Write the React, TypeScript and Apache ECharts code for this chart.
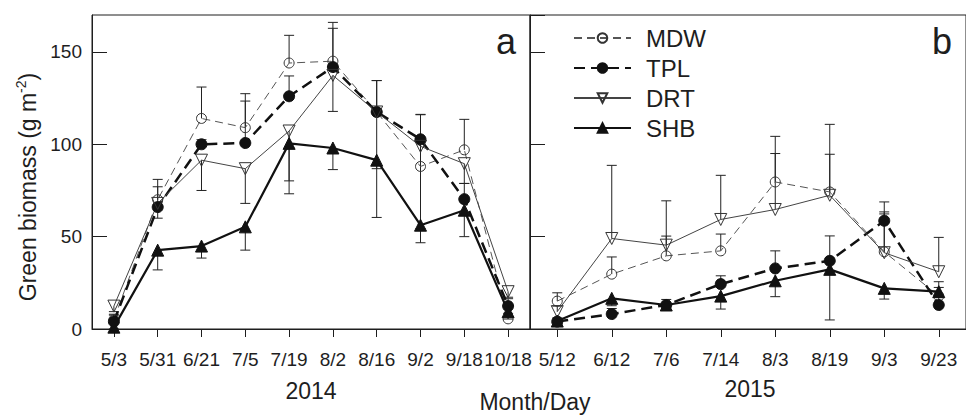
import React, { useEffect, useRef } from 'react';
import * as echarts from 'echarts';

const dates2014 = ['5/3', '5/31', '6/21', '7/5', '7/19', '8/2', '8/16', '9/2', '9/18', '10/18'];
const dates2015 = ['5/12', '6/12', '7/6', '7/14', '8/3', '8/19', '9/3', '9/23'];
const yTickValues = [0, 50, 100, 150];

const mdw2014 = [5, 70, 114, 109, 144, 145, 117.5, 88, 97, 5.5];
const tpl2014 = [4, 66, 100, 100.7, 126, 141.8, 117.5, 102.7, 70.3, 12.4];
const drt2014 = [12.4, 68, 91.4, 86.8, 107.2, 137.3, 117.5, 98.9, 89.5, 20.2];
const shb2014 = [1, 42.7, 44.9, 55.3, 100.5, 98, 91.4, 56.2, 64.3, 9.4];

const mdw2014Up = [3, 11, 17, 18.4, 15, 21, 17, 28, 16.5, 3];
const tpl2014Up = [3.5, 11, 2.5, 22.7, 11, 21, 17, 13.5, 8.5, 4];
const drt2014Down = [3, 8, 16.4, 18.8, 27, 19.5, 30.7, 44.5, 10.7, 3];
const shb2014Down = [1, 10.7, 6.5, 12.6, 27.3, 11.7, 31, 9.5, 14.3, 4];

const mdw2015 = [15.1, 29.7, 39.6, 42.3, 79.6, 74.2, 41.8, 17.8];
const tpl2015 = [4, 8.1, 13, 24.3, 32.8, 36.9, 58.6, 13];
const drt2015 = [9.4, 49, 45.4, 59.3, 64.7, 72.4, 41.3, 31];
const shb2015 = [4.3, 16.6, 13, 17.8, 26.1, 32.3, 22, 20.2];

const mdw2015Up = [4.5, 9.3, 10.7, 9.1, 24.7, 36.6, 21.6, 7.8];
const tpl2015Up = [2, 3, 3, 4.5, 9.5, 13.5, 10.2, 9.5];
const drt2015Up = [3, 39.6, 24, 23.9, 30.3, 22.2, 21, 18.6];
const shb2015Down = [2, 4, 3, 7, 8.6, 27.4, 5.8, 3];

const FONT = '"Liberation Sans", Arial, Helvetica, sans-serif';
const INK = '#1e1e1e';

function barRows(vals: number[], errs: number[], dir: number) {
  return vals.map((v, i) => [i, v, Math.max(0, v + dir * errs[i])]);
}

const seriesStyles: Record<string, any> = {
  MDW: {
    symbol: 'circle', symbolSize: 10, symbolRotate: 0,
    lineStyle: { color: '#555', width: 1, type: [8, 5] },
    itemStyle: { color: 'rgba(255,255,255,0)', borderColor: '#333', borderWidth: 1 },
  },
  TPL: {
    symbol: 'circle', symbolSize: 11, symbolRotate: 0,
    lineStyle: { color: '#111', width: 2.5, type: [11, 6] },
    itemStyle: { color: '#111', borderColor: '#111', borderWidth: 1 },
  },
  DRT: {
    symbol: 'triangle', symbolSize: 12, symbolRotate: 180,
    lineStyle: { color: '#444', width: 1, type: 'solid' },
    itemStyle: { color: 'rgba(255,255,255,0)', borderColor: '#333', borderWidth: 1 },
  },
  SHB: {
    symbol: 'triangle', symbolSize: 12, symbolRotate: 0,
    lineStyle: { color: '#111', width: 2.2, type: 'solid' },
    itemStyle: { color: '#111', borderColor: '#111', borderWidth: 1 },
  },
};

function lineSeries(name: string, data: number[], idx: number) {
  return {
    type: 'line',
    name,
    data,
    xAxisIndex: idx,
    yAxisIndex: idx,
    showSymbol: true,
    z: 3,
    ...seriesStyles[name],
  };
}

function errSeries(rows: number[][], idx: number) {
  return {
    type: 'custom',
    name: 'err' + idx,
    xAxisIndex: idx,
    yAxisIndex: idx,
    data: rows,
    z: 2,
    encode: { x: 0, y: [1, 2] },
    renderItem: (params: any, api: any) => {
      const x = api.value(0);
      const a = api.coord([x, api.value(1)]);
      const b = api.coord([x, api.value(2)]);
      const w = 5;
      const st = { stroke: '#222', lineWidth: 1 };
      return {
        type: 'group',
        children: [
          { type: 'line', shape: { x1: a[0], y1: a[1], x2: b[0], y2: b[1] }, style: st },
          { type: 'line', shape: { x1: b[0] - w, y1: b[1], x2: b[0] + w, y2: b[1] }, style: st },
        ],
      };
    },
  };
}

export default function App() {
  const ref = useRef<HTMLDivElement>(null);
  useEffect(() => {
    document.body.style.margin = '0';
    const chart = echarts.init(ref.current!, null, { renderer: 'svg' });
    const axisBase = {
      type: 'value',
      min: 0,
      max: 170,
      interval: 50,
      axisLine: { show: true, lineStyle: { color: INK, width: 1 } },
      axisTick: { show: true, inside: true, length: 15, lineStyle: { color: INK, width: 1 } },
      splitLine: { show: false },
    };
    const xBase = {
      type: 'category',
      boundaryGap: true,
      axisLine: { show: true, lineStyle: { color: INK, width: 1 } },
      axisTick: { show: true, alignWithLabel: true, inside: false, length: 8, lineStyle: { color: INK } },
      axisLabel: { color: INK, fontSize: 19, fontFamily: FONT, margin: 21, interval: 0 },
      splitLine: { show: false },
    };
    const errRows2014 = [
      ...barRows(mdw2014, mdw2014Up, 1),
      ...barRows(tpl2014, tpl2014Up, 1),
      ...barRows(drt2014, drt2014Down, -1),
      ...barRows(shb2014, shb2014Down, -1),
    ];
    const errRows2015 = [
      ...barRows(mdw2015, mdw2015Up, 1),
      ...barRows(tpl2015, tpl2015Up, 1),
      ...barRows(drt2015, drt2015Up, 1),
      ...barRows(shb2015, shb2015Down, -1),
    ];
    const option: any = {
      animation: false,
      backgroundColor: '#fff',
      textStyle: { fontFamily: FONT, color: INK },
      grid: [
        { left: 92, top: 15, width: 438, height: 314, show: true, borderColor: INK, borderWidth: 1 },
        { left: 530, top: 15, width: 438, height: 314, show: true, borderColor: INK, borderWidth: 1 },
      ],
      xAxis: [
        { ...xBase, gridIndex: 0, data: dates2014 },
        { ...xBase, gridIndex: 1, data: dates2015 },
      ],
      yAxis: [
        {
          ...axisBase,
          gridIndex: 0,
          axisLabel: {
            color: INK, fontSize: 19, fontFamily: FONT, margin: 10, showMaxLabel: false,
            formatter: (v: number) => (yTickValues.includes(v) ? String(v) : ''),
          },
          name: '{a|Green biomass (g m}{b|-2}{a|)}',
          nameLocation: 'middle',
          nameGap: 50,
          nameRotate: 90,
          nameTextStyle: {
            padding: [0, 30, 0, 0],
            rich: {
              a: { fontSize: 23, fontFamily: FONT, color: INK, lineHeight: 28 },
              b: { fontSize: 14, fontFamily: FONT, color: INK, verticalAlign: 'top', lineHeight: 14 },
            },
          },
        },
        { ...axisBase, gridIndex: 1, axisLabel: { show: false } },
      ],
      legend: {
        data: ['MDW', 'TPL', 'DRT', 'SHB'],
        orient: 'vertical',
        left: 568,
        top: 21,
        itemWidth: 57,
        itemHeight: 12,
        itemGap: 6,
        textStyle: { fontSize: 24, fontFamily: FONT, color: INK, padding: [0, 0, 0, 10] },
      },
      graphic: [
        { type: 'text', x: 506, y: 41, style: { text: 'a', fontSize: 36, fontFamily: FONT, fill: INK, align: 'center', verticalAlign: 'middle' } },
        { type: 'text', x: 942, y: 41, style: { text: 'b', fontSize: 36, fontFamily: FONT, fill: INK, align: 'center', verticalAlign: 'middle' } },
        { type: 'text', x: 311, y: 391, style: { text: '2014', fontSize: 23, fontFamily: FONT, fill: INK, align: 'center', verticalAlign: 'middle' } },
        { type: 'text', x: 750, y: 389, style: { text: '2015', fontSize: 23, fontFamily: FONT, fill: INK, align: 'center', verticalAlign: 'middle' } },
        { type: 'text', x: 535, y: 402, style: { text: 'Month/Day', fontSize: 23, fontFamily: FONT, fill: INK, align: 'center', verticalAlign: 'middle' } },
      ],
      series: [
        errSeries(errRows2014, 0),
        errSeries(errRows2015, 1),
        lineSeries('MDW', mdw2014, 0),
        lineSeries('TPL', tpl2014, 0),
        lineSeries('DRT', drt2014, 0),
        lineSeries('SHB', shb2014, 0),
        lineSeries('MDW', mdw2015, 1),
        lineSeries('TPL', tpl2015, 1),
        lineSeries('DRT', drt2015, 1),
        lineSeries('SHB', shb2015, 1),
      ],
    };
    chart.setOption(option);
    return () => chart.dispose();
  }, []);
  return <div ref={ref} style={{ position: 'fixed', left: 0, top: 0, width: 966, height: 416 }} />;
}
